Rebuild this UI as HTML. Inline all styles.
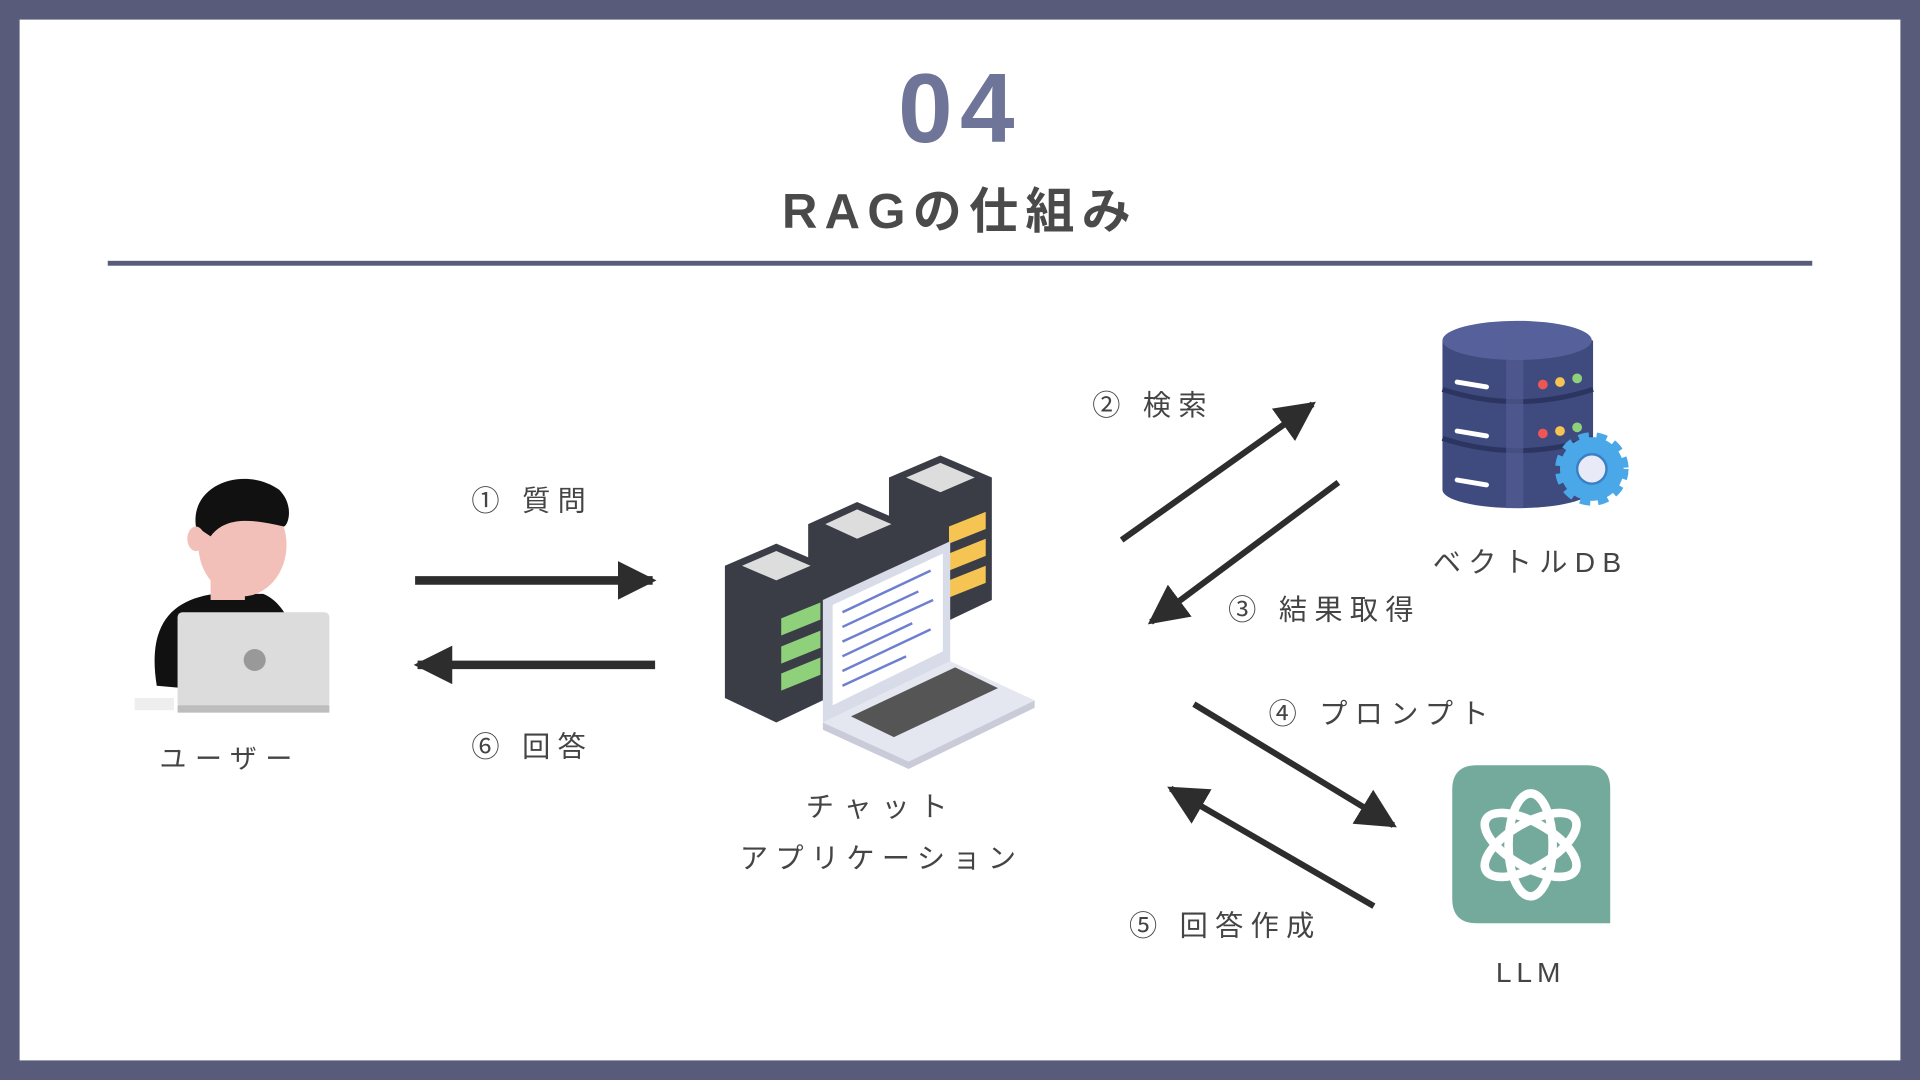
<!DOCTYPE html>
<html><head><meta charset="utf-8"><style>
html,body{margin:0;padding:0;background:#585c7a;}
svg{display:block;}
text{font-family:"Liberation Sans","Noto Sans CJK JP",sans-serif;fill:#444;}
</style></head><body>
<svg width="1920" height="1080" viewBox="0 0 1568 882" xmlns="http://www.w3.org/2000/svg">
<defs>
<marker id="ah" viewBox="0 0 10 10" refX="9" refY="5" markerWidth="4.5" markerHeight="4.5" orient="auto-start-reverse" markerUnits="strokeWidth">
<path d="M0,0 L10,5 L0,10 z" fill="#2d2d2d"/></marker>
<marker id="ah2" viewBox="0 0 10 10" refX="9" refY="5" markerWidth="6.5" markerHeight="6.5" orient="auto-start-reverse" markerUnits="strokeWidth">
<path d="M0,0 L10,5 L0,10 z" fill="#2d2d2d"/></marker>
</defs>
<rect x="0" y="0" width="1568" height="882" fill="#585c7a"/>
<rect x="16" y="16" width="1536" height="850" fill="#ffffff"/>
<text x="784" y="116" text-anchor="middle" font-size="80" font-weight="bold" letter-spacing="6" style="fill:#6f7499">04</text>
<text x="784" y="186" text-anchor="middle" font-size="40" font-weight="bold" letter-spacing="6" style="fill:#4a4a4a">RAGの仕組み</text>
<rect x="88" y="213" width="1392" height="4" fill="#585c7a"/>

<!-- person -->
<path d="M128,560 C120,510 140,490 175,485 L215,485 C240,495 250,540 240,570 Z" fill="#111"/>
<rect x="172" y="455" width="28" height="35" fill="#f2c0b8"/>
<ellipse cx="198" cy="445" rx="36" ry="42" fill="#f2c0b8"/>
<path d="M160,430 C155,395 200,380 228,400 C240,412 236,428 232,430 C210,425 185,420 172,438 Z" fill="#111"/>
<ellipse cx="160" cy="440" rx="7" ry="10" fill="#f2c0b8"/>
<rect x="145" y="500" width="124" height="78" rx="4" fill="#dcdcdc"/>
<rect x="145" y="576" width="124" height="6" fill="#bdbdbd"/>
<circle cx="208" cy="539" r="9" fill="#999"/>
<rect x="110" y="570" width="32" height="10" fill="#eee"/>
<text x="188" y="627" text-anchor="middle" font-size="22" letter-spacing="7">ユーザー</text>

<!-- arrows 1/6 -->
<line x1="339" y1="474" x2="533" y2="474" stroke="#2d2d2d" stroke-width="7" marker-end="url(#ah)"/>
<line x1="535" y1="543" x2="341" y2="543" stroke="#2d2d2d" stroke-width="7" marker-end="url(#ah)"/>
<text x="385" y="417" font-size="23" letter-spacing="6">① 質問</text>
<text x="385" y="618" font-size="23" letter-spacing="6">⑥ 回答</text>

<!-- servers + laptop -->
<g>
<path d="M726,390 L768,372 L810,390 L810,490 L768,510 L726,490 Z" fill="#3a3d46"/>
<path d="M740,390 L768,378 L796,390 L768,402 Z" fill="#ddd"/>
<path d="M775,430 L805,418 L805,432 L775,444 Z M775,452 L805,440 L805,454 L775,466 Z M775,474 L805,462 L805,476 L775,488 Z" fill="#f6c452"/>
<path d="M660,428 L700,410 L742,428 L742,520 L700,540 L660,520 Z" fill="#3a3d46"/>
<path d="M674,428 L700,416 L728,428 L700,440 Z" fill="#ddd"/>
<path d="M592,462 L634,444 L676,462 L676,570 L634,590 L592,570 Z" fill="#3a3d46"/>
<path d="M606,462 L634,450 L662,462 L634,474 Z" fill="#ddd"/>
<path d="M638,505 L670,492 L670,506 L638,519 Z M638,528 L670,515 L670,529 L638,542 Z M638,550 L670,537 L670,551 L638,564 Z" fill="#8fd17a"/>
<path d="M672,490 L776,442 L776,540 L672,590 Z" fill="#d8dbe8"/>
<path d="M680,494 L770,452 L770,532 L680,576 Z" fill="#fff"/>
<g stroke="#6e7fd0" stroke-width="2">
<line x1="688" y1="500" x2="760" y2="466"/><line x1="688" y1="512" x2="750" y2="483"/><line x1="688" y1="524" x2="762" y2="490"/><line x1="688" y1="536" x2="745" y2="509"/><line x1="688" y1="548" x2="760" y2="514"/><line x1="688" y1="560" x2="740" y2="536"/>
</g>
<path d="M672,590 L776,540 L845,572 L742,622 Z" fill="#e4e6f0"/>
<path d="M695,585 L780,545 L815,562 L730,602 Z" fill="#555"/>
<path d="M672,590 L742,622 L845,572 L845,578 L742,628 L672,596 Z" fill="#c9ccd8"/>
</g>
<text x="720" y="667" text-anchor="middle" font-size="23" letter-spacing="8">チャット</text>
<text x="720" y="709" text-anchor="middle" font-size="23" letter-spacing="6">アプリケーション</text>

<!-- arrows 2/3 -->
<line x1="916" y1="441" x2="1072" y2="330" stroke="#2d2d2d" stroke-width="5" marker-end="url(#ah2)"/>
<line x1="1093" y1="394" x2="940" y2="508" stroke="#2d2d2d" stroke-width="5" marker-end="url(#ah2)"/>
<text x="892" y="339" font-size="23" letter-spacing="6">② 検索</text>
<text x="1003" y="506" font-size="23" letter-spacing="6">③ 結果取得</text>

<!-- DB -->
<g>
<rect x="1178" y="278" width="123" height="122" fill="#3f4a7e"/>
<ellipse cx="1239" cy="400" rx="61" ry="15" fill="#3f4a7e"/>
<ellipse cx="1239" cy="278" rx="61" ry="16" fill="#56609a"/>
<path d="M1178,318 Q1239,338 1301,318" stroke="#2c3560" stroke-width="4" fill="none"/>
<path d="M1178,358 Q1239,378 1301,358" stroke="#2c3560" stroke-width="4" fill="none"/>
<rect x="1230" y="265" width="14" height="150" fill="#56609a" opacity="0.6"/>
<g stroke="#fff" stroke-width="4" stroke-linecap="round"><line x1="1190" y1="312" x2="1214" y2="316"/><line x1="1190" y1="352" x2="1214" y2="356"/><line x1="1190" y1="392" x2="1214" y2="396"/></g>
<circle cx="1260" cy="314" r="4" fill="#e55"/><circle cx="1274" cy="312" r="4" fill="#f6c452"/><circle cx="1288" cy="309" r="4" fill="#8fd17a"/>
<circle cx="1260" cy="354" r="4" fill="#e55"/><circle cx="1274" cy="352" r="4" fill="#f6c452"/><circle cx="1288" cy="349" r="4" fill="#8fd17a"/>
<circle cx="1300" cy="383" r="26" fill="#4aa8e8" stroke="#4aa8e8" stroke-width="8" stroke-dasharray="8 6"/>
<circle cx="1300" cy="383" r="12" fill="#e8ebf7" stroke="#3c7fc2" stroke-width="2"/>
</g>
<text x="1250" y="467" text-anchor="middle" font-size="23" letter-spacing="6">ベクトルDB</text>

<!-- arrows 4/5 -->
<line x1="975" y1="575" x2="1138" y2="674" stroke="#2d2d2d" stroke-width="5" marker-end="url(#ah2)"/>
<line x1="1122" y1="740" x2="956" y2="644" stroke="#2d2d2d" stroke-width="5" marker-end="url(#ah2)"/>
<text x="1036" y="591" font-size="23" letter-spacing="6">④ プロンプト</text>
<text x="922" y="764" font-size="23" letter-spacing="6">⑤ 回答作成</text>

<!-- LLM -->
<path d="M1206,625 L1296,625 Q1315,625 1315,644 L1315,754 L1206,754 Q1186,754 1186,734 L1186,645 Q1186,625 1206,625 Z" fill="#74aa9c"/>
<g fill="none" stroke="#fff" stroke-width="7">
<ellipse cx="1250" cy="690" rx="18" ry="42"/>
<ellipse cx="1250" cy="690" rx="18" ry="42" transform="rotate(60 1250 690)"/>
<ellipse cx="1250" cy="690" rx="18" ry="42" transform="rotate(-60 1250 690)"/>
</g>
<text x="1250" y="802" text-anchor="middle" font-size="23" letter-spacing="4">LLM</text>
</svg>
</body></html>
